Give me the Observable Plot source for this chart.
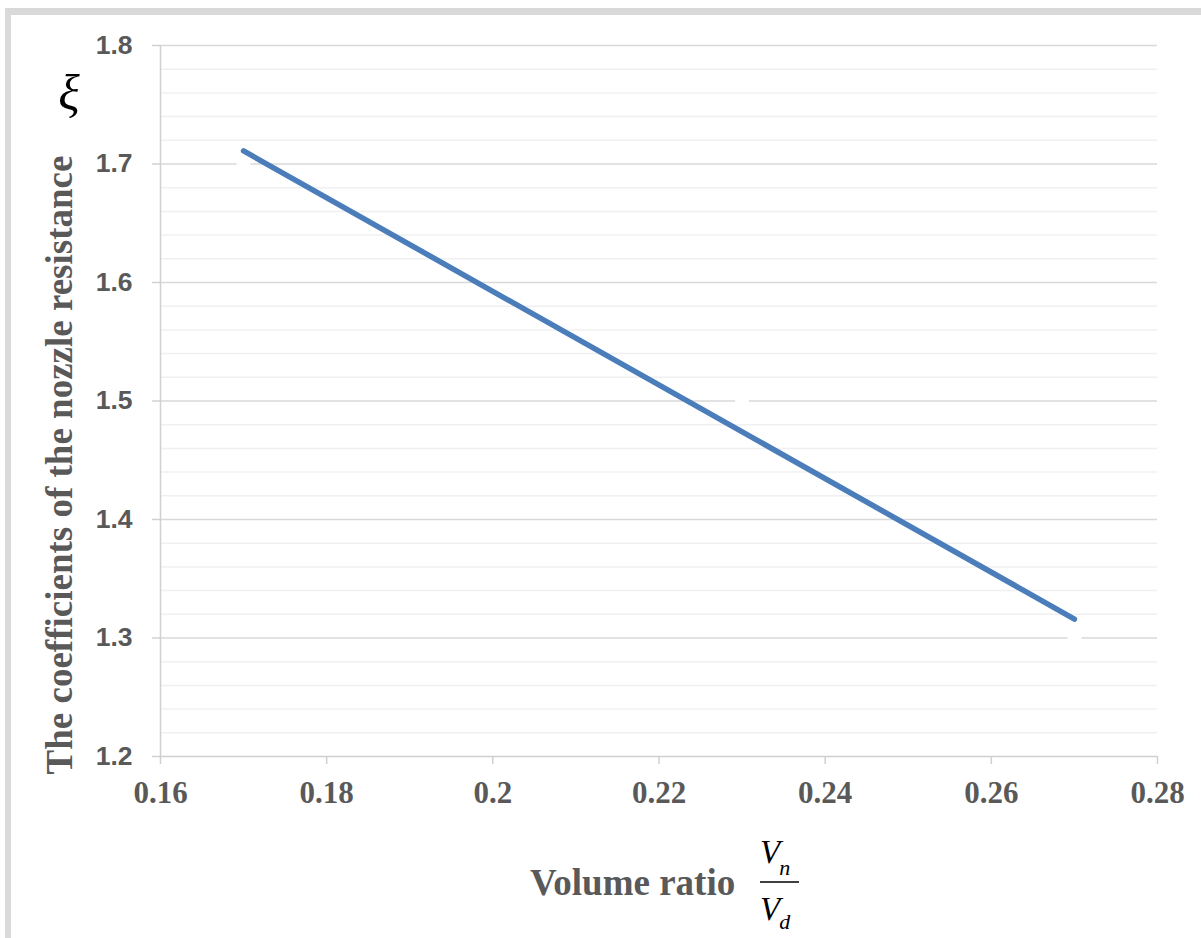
<!DOCTYPE html>
<html>
<head>
<meta charset="utf-8">
<script src="https://cdn.jsdelivr.net/npm/d3@7"></script>
<script src="https://cdn.jsdelivr.net/npm/@observablehq/plot@0.6"></script>
<style>
  html, body { margin: 0; padding: 0; background: #fff; overflow: hidden; }
  #wrap { position: relative; width: 1201px; height: 938px; }
  #frame { position: absolute; left: 5px; top: 8px; width: 1400px; height: 1200px;
           border-left: 6px solid #d9d9d9; border-top: 7px solid #d9d9d9; box-sizing: border-box; }
  #chart { position: absolute; left: 0; top: 0; }
</style>
</head>
<body>
<div id="wrap"><div id="frame"></div><div id="chart"></div></div>
<script>
// Data
const volumeRatio = [0.17, 0.27];
const resistance = [1.711, 1.316];
// hidden (white) marker series from the original chart
const hiddenX = [0.17, 0.23, 0.27];
const hiddenY = [1.7, 1.5, 1.3];

// Axis ticks
const xTicks = [0.16, 0.18, 0.2, 0.22, 0.24, 0.26, 0.28];
const xTickLabels = ["0.16", "0.18", "0.2", "0.22", "0.24", "0.26", "0.28"];
const yMajorTicks = [1.2, 1.3, 1.4, 1.5, 1.6, 1.7, 1.8];
const yTickLabels = ["1.2", "1.3", "1.4", "1.5", "1.6", "1.7", "1.8"];
const yMinorTicks = [1.22, 1.24, 1.26, 1.28, 1.32, 1.34, 1.36, 1.38, 1.42, 1.44, 1.46, 1.48,
                     1.52, 1.54, 1.56, 1.58, 1.62, 1.64, 1.66, 1.68, 1.72, 1.74, 1.76, 1.78];

const lineData = volumeRatio.map((x, i) => ({x, y: resistance[i]}));
const hiddenData = hiddenX.map((x, i) => ({x, y: hiddenY[i]}));

const serif = "Liberation Serif, Times New Roman, serif";
const sans = "Liberation Sans, Arial, sans-serif";

const plot = Plot.plot({
  width: 1201,
  height: 938,
  marginLeft: 160,
  marginRight: 44,
  marginTop: 45,
  marginBottom: 182,
  x: {domain: [0.16, 0.28], axis: null},
  y: {domain: [1.2, 1.8], axis: null},
  style: {background: "transparent", overflow: "visible"},
  marks: [
    Plot.ruleY(yMinorTicks, {stroke: "#f0f0f0", strokeWidth: 1.5}),
    Plot.ruleY(yMajorTicks.filter(d => d > 1.2), {stroke: "#d9d9d9", strokeWidth: 1.5}),
    Plot.dot(hiddenData, {x: "x", y: "y", r: 7, fill: "white", stroke: "none"}),
    Plot.ruleX([0.16], {stroke: "#d0d0d0", strokeWidth: 1.5}),
    Plot.ruleY([1.2], {stroke: "#d0d0d0", strokeWidth: 1.5}),
    // tick marks only
    Plot.axisY({ticks: yMajorTicks, tickSize: 8, tickFormat: () => "", stroke: "#d0d0d0", strokeWidth: 1.5, label: null}),
    Plot.axisX({ticks: xTicks, tickSize: 8, tickFormat: () => "", stroke: "#d0d0d0", strokeWidth: 1.5, label: null}),
    // tick labels
    Plot.text(yMajorTicks, {
      x: () => 0.16, y: d => d, text: (d, i) => yTickLabels[i],
      dx: -28, textAnchor: "end", lineAnchor: "middle",
      fontFamily: sans, fontWeight: "bold", fontSize: 26.5, fill: "#595959"
    }),
    Plot.text(xTicks, {
      x: d => d, y: () => 1.2, text: (d, i) => xTickLabels[i],
      dy: 37, textAnchor: "middle", lineAnchor: "middle",
      fontFamily: serif, fontWeight: "bold", fontSize: 31, fill: "#595959"
    }),
    Plot.line(lineData, {x: "x", y: "y", stroke: "#4a7dba", strokeWidth: 5.5, strokeLinecap: "round"})
  ]
});

document.getElementById("chart").appendChild(plot);

const svg = d3.select(plot);

// Y axis title
svg.append("text")
  .attr("transform", "translate(72,465) rotate(-90)")
  .attr("text-anchor", "middle")
  .attr("font-family", serif)
  .attr("font-weight", "bold")
  .attr("font-size", 37)
  .attr("fill", "#595959")
  .text("The coefficients of the nozzle resistance");

// xi symbol
svg.append("text")
  .attr("x", 69).attr("y", 110)
  .attr("text-anchor", "middle")
  .attr("font-family", serif)
  .attr("font-style", "italic")
  .attr("font-size", 50)
  .attr("fill", "#000")
  .text("ξ");

// X axis title
svg.append("text")
  .attr("x", 530).attr("y", 895)
  .attr("text-anchor", "start")
  .attr("font-family", serif)
  .attr("font-weight", "bold")
  .attr("font-size", 37)
  .attr("fill", "#595959")
  .text("Volume ratio");

// Fraction Vn / Vd
const num = svg.append("text")
  .attr("x", 760).attr("y", 863)
  .attr("text-anchor", "start")
  .attr("font-family", serif)
  .attr("font-style", "italic")
  .attr("font-size", 33)
  .attr("fill", "#000");
num.append("tspan").text("V");
num.append("tspan").attr("font-size", 22).attr("dy", 12).attr("dx", -1).text("n");

svg.append("line")
  .attr("x1", 760).attr("x2", 799)
  .attr("y1", 882).attr("y2", 882)
  .attr("stroke", "#000").attr("stroke-width", 1.5);

const den = svg.append("text")
  .attr("x", 760).attr("y", 920)
  .attr("text-anchor", "start")
  .attr("font-family", serif)
  .attr("font-style", "italic")
  .attr("font-size", 33)
  .attr("fill", "#000");
den.append("tspan").text("V");
den.append("tspan").attr("font-size", 22).attr("dy", 9).attr("dx", -1).text("d");
</script>
</body>
</html>
